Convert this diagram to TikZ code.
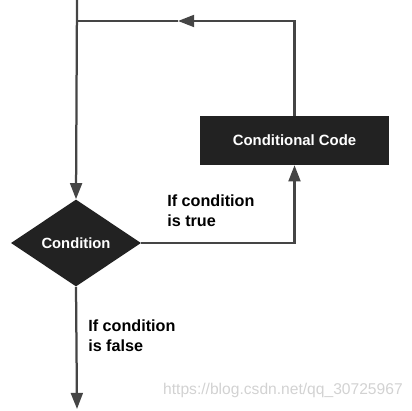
\documentclass[tikz,border=0pt]{standalone}
\usepackage{fontspec}
\setmainfont{Liberation Sans}
\usetikzlibrary{arrows.meta,positioning,shapes.geometric}
\definecolor{ink}{HTML}{454545}
\definecolor{boxfill}{HTML}{222222}
\definecolor{markgray}{HTML}{D2D2D2}

\begin{document}
\begin{tikzpicture}[x=0.025cm,y=-0.025cm,
  flow/.style={draw=ink,line width=1.6pt},
  arrowed/.style={flow,-{Triangle[length=11.5pt,width=8.5pt]}},
  decision/.style={diamond,aspect=1.5,fill=boxfill,inner sep=0pt,
            minimum width=3.25cm,minimum height=2.175cm,
            text=white,font=\fontsize{10.5}{12}\selectfont\bfseries},
  codebox/.style={rectangle,fill=boxfill,inner sep=0pt,
            minimum width=4.725cm,minimum height=1.225cm,
            text=white,font=\fontsize{10.6}{12}\selectfont\bfseries},
  note/.style={align=left,inner sep=0pt,anchor=north west,
            font=\fontsize{11.5}{14}\selectfont\bfseries}
]
\useasboundingbox (0,0) rectangle (412,411);
\node[decision] (cond) at (76,243) {Condition};
\node[codebox] (code) at (294.5,140.5) {Conditional Code};

\coordinate (start) at (77,0);
\coordinate (join) at (77,21);
\coordinate (back) at (178,21);
\coordinate (finish) at (77,409);

% entry and the loop back
\draw[arrowed] (start) -- (cond.north);
\draw[arrowed] (code.north) |- (back);
\draw[flow] (back) -- (join);
% branches
\draw[arrowed] (cond.east) -| (code.south);
\draw[arrowed] (cond.south) -- (finish);

\node[note] (truenote) at (167,195) {If condition\\is true};
\node[note] (falsenote) at (88,320) {If condition\\is false};
\node[anchor=east,inner sep=0pt,text=markgray,font=\fontsize{11.1}{12}\selectfont]
  (mark) at (403,390) {https://blog.csdn.net/qq\_30725967};
\end{tikzpicture}
\end{document}
